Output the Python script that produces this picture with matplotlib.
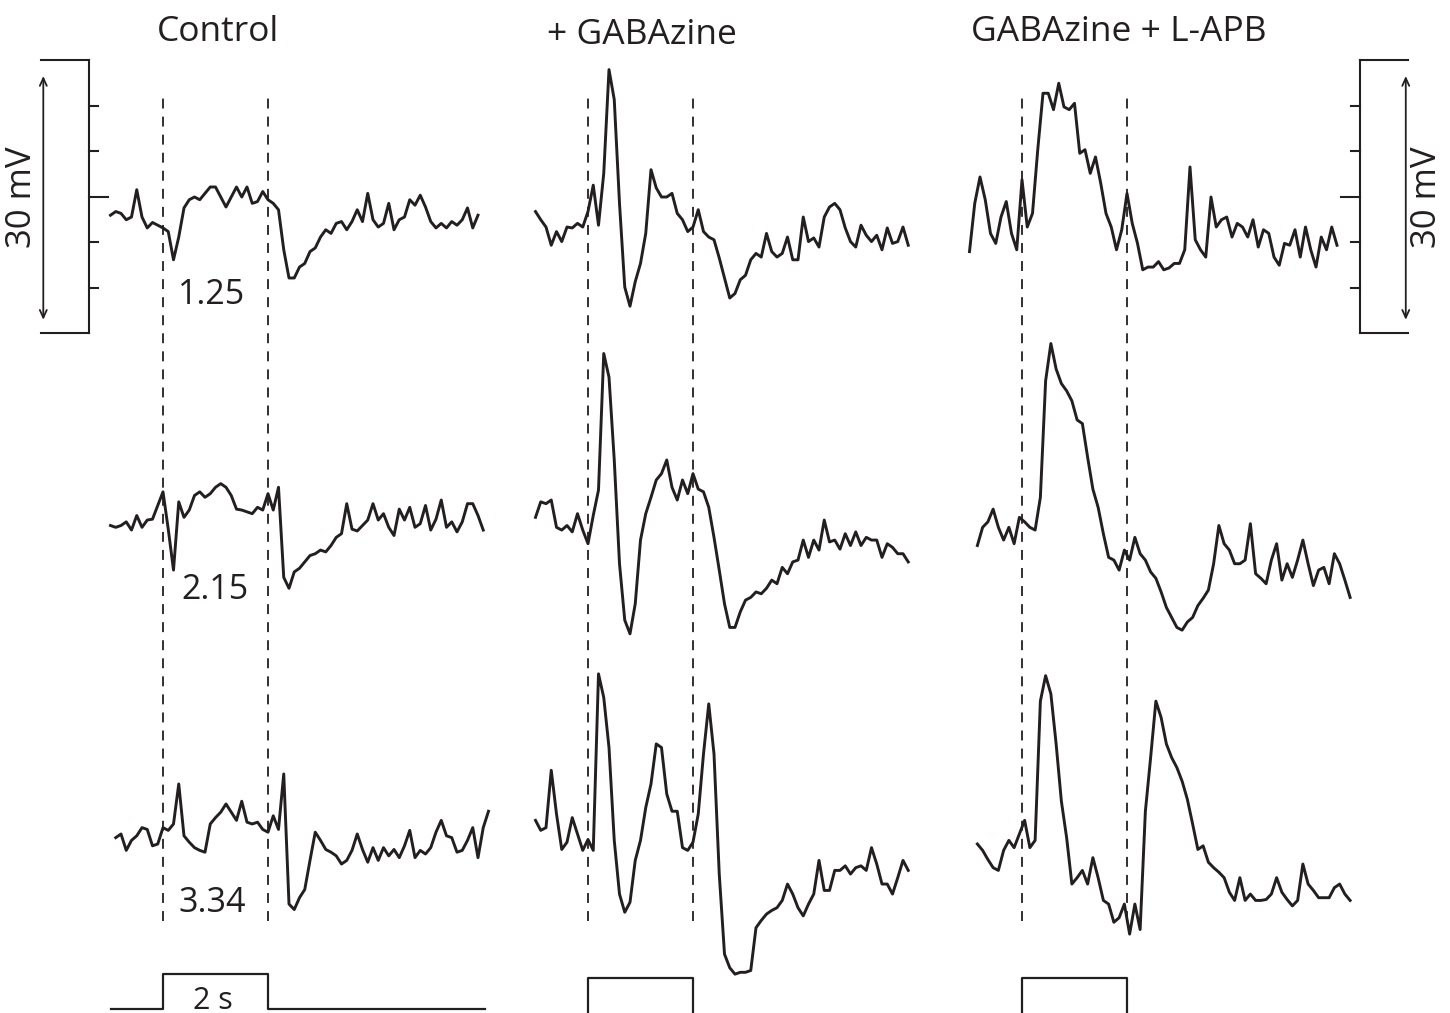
import matplotlib
matplotlib.use("Agg")
import matplotlib.pyplot as plt
import numpy as np

plt.rcParams["font.family"] = ["Open Sans", "DejaVu Sans"]

# membrane potential traces, mV relative to the scale-bar midpoint,
# sampled every 0.1 s; time 0 = light onset, light stays on for 2 s
DT = 0.1
INTENSITIES = ["1.25", "2.15", "3.34"]
CONDITIONS = ["Control", "+ GABAzine", "GABAzine + L-APB"]

control_125 = [-2.0, -1.6, -1.8, -2.5, -2.2, 0.8, -2.2, -3.4, -2.8, -3.1, -3.4, -3.8, -6.9, -4.4, -1.2,
               -0.3, 0.0, -0.3, 0.4, 1.1, 1.1, 0.0, -1.1, 0.0, 1.1, 0.0, 1.1, -0.7, -0.5, 0.6, -0.3,
               -0.7, -1.4, -5.8, -8.9, -8.9, -7.7, -7.3, -6.0, -5.6, -4.4, -3.6, -4.0, -2.9, -2.7, -3.6,
               -2.7, -1.4, -2.7, 0.4, -2.5, -3.3, -2.9, -0.7, -3.6, -2.5, -2.2, -0.3, -0.9, 0.2, -1.1,
               -2.7, -3.4, -2.9, -3.4, -2.7, -3.1, -2.5, -1.2, -3.4, -2.0]
control_215 = [-2.1, -2.3, -2.1, -1.7, -2.6, -1.0, -2.3, -1.5, -1.4, 0.1, 1.6, -2.5, -7.0, 0.5, -1.2,
               -0.4, 1.2, 1.6, 1.0, 1.4, 2.1, 2.5, 2.1, 1.2, -0.3, -0.4, -0.6, -0.8, -0.1, -0.4, 1.4,
               -0.4, 2.1, -7.8, -9.0, -7.2, -6.8, -6.1, -5.4, -5.2, -4.8, -5.0, -4.3, -3.4, -3.0, 0.3,
               -2.5, -2.7, -2.1, -1.5, 0.3, -1.5, -0.8, -2.3, -3.2, -0.3, -1.5, -0.1, -2.3, -1.9, 0.1,
               -2.6, -1.4, 0.7, -2.3, -1.7, -2.8, -1.7, 0.3, 0.3, -1.0, -2.6]
control_334 = [-2.4, -2.0, -3.8, -2.7, -2.2, -1.3, -1.5, -3.3, -3.1, -1.3, -1.6, -0.9, 3.5, -2.2, -2.9,
               -3.5, -3.8, -4.0, -0.9, -0.2, 0.4, 1.3, 0.4, -0.5, 1.6, -0.7, -0.9, -0.7, -1.5, -1.8,
               0.0, -1.5, 4.6, -9.7, -10.3, -9.0, -8.1, -4.9, -1.8, -2.7, -3.7, -4.0, -4.4, -5.3, -4.9,
               -3.8, -2.0, -3.7, -5.1, -3.5, -4.9, -3.5, -4.4, -3.7, -4.6, -3.3, -1.6, -4.6, -3.8, -4.2,
               -3.5, -1.8, -0.5, -2.2, -2.4, -4.0, -3.8, -2.7, -1.3, -4.6, -1.3, 0.5]

gabazine_125 = [-1.6, -2.5, -3.3, -5.3, -3.8, -4.9, -3.3, -3.4, -2.9, -3.3, -1.6, 1.3, -3.1, 2.6, 14.0,
                10.7, -0.7, -9.9, -12.0, -9.3, -7.3, -4.0, 3.0, 1.0, 0.0, 0.0, 0.4, -1.8, -2.5, -3.8,
                -3.3, -1.4, -3.8, -4.4, -4.7, -6.7, -8.9, -11.1, -10.6, -9.1, -8.6, -6.9, -6.2, -6.6,
                -4.0, -6.0, -6.6, -6.2, -4.4, -6.9, -6.9, -2.2, -4.9, -4.5, -5.5, -2.2, -1.1, -0.7, -1.4,
                -3.4, -4.9, -5.5, -3.1, -4.2, -4.9, -4.2, -5.8, -3.4, -5.1, -4.9, -3.3, -5.3]
gabazine_215 = [-1.2, 0.5, 0.3, 0.7, -2.3, -2.6, -2.1, -2.8, -0.8, -2.6, -4.1, -1.0, 1.8, 16.8, 14.2,
                5.1, -6.3, -12.5, -14.0, -10.7, -3.7, -0.8, 1.0, 2.9, 3.6, 5.1, 2.1, 0.7, 2.9, 1.4, 3.6,
                1.9, 1.6, -0.1, -3.4, -7.0, -10.7, -13.3, -13.3, -11.6, -10.3, -10.0, -9.4, -9.6, -9.0,
                -8.1, -8.5, -6.7, -7.4, -6.1, -5.9, -3.7, -5.6, -3.7, -4.8, -1.5, -3.9, -3.7, -4.7, -3.0,
                -4.3, -2.8, -4.3, -3.4, -3.7, -3.7, -5.6, -4.1, -4.5, -5.2, -5.2, -6.1]
gabazine_334 = [-0.5, -1.6, -1.3, 5.0, 0.2, -3.7, -2.9, -0.2, -2.0, -3.8, -2.6, -3.8, 15.6, 13.0, 7.5,
                -2.7, -8.6, -10.6, -9.5, -4.9, -2.7, 0.9, 3.5, 7.9, 7.5, 2.4, 0.5, 0.5, -3.5, -3.8, -2.9,
                0.2, 6.8, 12.3, 6.8, -6.4, -15.2, -16.7, -17.4, -17.2, -17.2, -17.0, -12.3, -11.5, -10.8,
                -10.4, -10.1, -9.3, -7.5, -8.6, -10.1, -11.0, -9.7, -8.6, -4.9, -8.2, -8.2, -6.0, -6.0,
                -5.5, -6.4, -5.7, -5.5, -6.0, -3.5, -5.3, -7.5, -7.5, -8.6, -6.8, -4.9, -6.0]

lapb_125 = [-6.0, -0.7, 2.2, -0.3, -4.0, -5.1, -2.2, -0.5, -4.0, -5.8, 1.9, -3.3, -1.8, 5.2, 11.4, 11.4,
            9.6, 12.5, 9.9, 9.6, 10.3, 4.8, 5.2, 2.6, 4.4, 1.5, -1.8, -3.3, -5.8, -3.6, 0.4, -2.9, -5.1,
            -8.0, -7.7, -7.7, -7.1, -8.0, -7.8, -7.3, -7.3, -5.8, 3.3, -4.7, -5.8, -6.6, 0.0, -3.3, -2.5,
            -2.2, -4.4, -2.9, -3.3, -4.4, -2.5, -5.5, -3.6, -4.0, -6.6, -7.5, -5.1, -5.3, -3.6, -6.6,
            -3.3, -5.8, -7.7, -4.4, -5.8, -3.3, -5.3]
lapb_215 = [-4.3, -2.3, -1.7, -0.3, -2.3, -3.7, -2.3, -4.1, -1.2, -1.7, -2.3, -2.6, 1.0, 13.8, 17.9, 15.1,
            13.5, 12.7, 11.6, 9.5, 9.1, 5.4, 1.9, -0.1, -3.0, -5.6, -5.9, -7.0, -4.8, -5.9, -3.4, -5.2,
            -5.9, -7.2, -7.9, -9.4, -11.1, -12.2, -13.3, -13.6, -12.7, -12.2, -10.9, -10.1, -9.2, -6.3,
            -2.1, -4.1, -4.8, -6.3, -6.3, -5.9, -1.9, -7.4, -7.9, -8.5, -5.9, -4.1, -8.1, -6.3, -7.8,
            -5.9, -3.7, -6.3, -8.7, -7.0, -6.7, -8.5, -5.2, -6.3, -8.1, -10.0]
lapb_334 = [-3.1, -3.8, -4.8, -5.7, -6.0, -3.8, -2.7, -3.5, -2.0, -0.5, -3.5, -2.7, 12.6, 15.4, 13.4, 7.9,
            1.6, -2.4, -7.5, -6.8, -6.0, -7.5, -4.6, -6.8, -9.3, -9.7, -11.7, -11.2, -9.7, -13.0, -9.7,
            -12.5, 0.5, 6.4, 12.6, 10.8, 7.9, 6.4, 5.3, 3.8, 1.8, -0.9, -3.7, -3.3, -5.1, -5.7, -6.2,
            -6.8, -8.4, -9.3, -6.8, -9.3, -8.6, -9.3, -9.3, -9.2, -8.6, -6.8, -8.4, -9.2, -9.9, -9.3,
            -5.3, -7.5, -8.2, -9.0, -9.0, -9.0, -7.9, -7.5, -8.6, -9.3]

# first sample time of each trace (s)
control_t0 = [-1.0, -1.0, -0.9]
gabazine_t0 = [-1.0, -1.0, -1.0]
lapb_t0 = [-1.0, -0.85, -0.85]

# light stimulus (on/off) per column
stim_t = [[-1.0, 0, 0, 2, 2, 6.13], [-1.0, 0, 0, 2, 2, 6.1], [-1.1, 0, 0, 2, 2, 6.25]]
stim_on = [0, 0, 1, 1, 0, 0]

SCALE_MV = 30
SCALE_TICKS = [-15, -10, -5, 0, 5, 10, 15]

# layout (pixels of the 1450x1013 output)
W, H = 1450, 1013
PX_PER_S = 52.5
PX_PER_MV = 9.1
ONSET_PX = [163, 588, 1022]
T_LO, T_HI = -1.3, 6.5
Y_TOP = 197 / PX_PER_MV
Y_BOT = (197 - H) / PX_PER_MV
ROW_OFFSET = [0.0, -34.0, -68.0]
INK = "#231f20"

fig = plt.figure(figsize=(W / 100, H / 100), dpi=100)

columns = [
    (control_t0, [control_125, control_215, control_334]),
    (gabazine_t0, [gabazine_125, gabazine_215, gabazine_334]),
    (lapb_t0, [lapb_125, lapb_215, lapb_334]),
]

axes = []
for c, (t0s, traces) in enumerate(columns):
    left = ONSET_PX[c] + T_LO * PX_PER_S
    ax = fig.add_axes([left / W, 0, (T_HI - T_LO) * PX_PER_S / W, 1])
    ax.set_xlim(T_LO, T_HI)
    ax.set_ylim(Y_BOT, Y_TOP)
    ax.axis("off")
    axes.append(ax)

    for r, (t0, v) in enumerate(zip(t0s, traces)):
        t = t0 + DT * np.arange(len(v))
        ax.plot(t, np.array(v) + ROW_OFFSET[r], color=INK, lw=2.1, solid_joinstyle="round")

    for x in (0, 2):
        ax.plot([x, x], [-79.6, 11.3], color=INK, lw=1.3, dashes=(5.5, 4.5))

    # control stimulus baseline sits just inside the frame, the others at the very edge
    if c == 0:
        ax.plot(stim_t[c], -89.2 + 3.85 * np.array(stim_on), color=INK, lw=1.6)
    else:
        ax.plot(stim_t[c], Y_BOT - 0.12 + 3.95 * np.array(stim_on), color=INK, lw=1.6)

# intensity labels
for r, (lab, dy, x) in enumerate(zip(INTENSITIES, [-10.8, -9.2, -9.6], [0.93, 0.99, 0.93])):
    axes[0].text(x, ROW_OFFSET[r] + dy, lab, ha="center", va="center", fontsize=24.5, color=INK)

axes[0].text(0.95, -88.3, "2 s", ha="center", va="center", fontsize=22, color=INK)

# 30 mV scale bars
lo, hi = min(SCALE_TICKS), max(SCALE_TICKS)
for ax, bar_x, sign in [(axes[0], -1.41, -1), (axes[2], 6.44, 1)]:
    kw = dict(color=INK, lw=1.5, clip_on=False)
    ax.plot([bar_x, bar_x], [lo, hi], **kw)
    ax.plot([bar_x, bar_x + sign * 0.92], [hi, hi], **kw)
    ax.plot([bar_x, bar_x + sign * 0.92], [lo, lo], **kw)
    for tk in SCALE_TICKS[1:-1]:
        ln = 0.36 if tk == 0 else 0.17
        ax.plot([bar_x, bar_x - sign * ln], [tk, tk], **kw)
    arrow_x = bar_x + sign * 0.87
    ax.annotate("", xy=(arrow_x, lo + 1.2), xytext=(arrow_x, hi - 1.4),
                arrowprops=dict(arrowstyle="<->,head_length=0.55,head_width=0.25", color=INK, lw=1.3),
                annotation_clip=False)
    ax.text(bar_x + sign * 1.28, 0, f"{SCALE_MV} mV", rotation=90, ha="center", va="center",
            fontsize=25, color=INK, clip_on=False)

# condition titles
for title, x, y in zip(CONDITIONS, [218, 642, 1119], [32, 35, 32]):
    fig.text(x / W, 1 - y / H, title, ha="center", va="center", fontsize=25.5, color=INK)

fig.savefig("out.png", dpi=100)
